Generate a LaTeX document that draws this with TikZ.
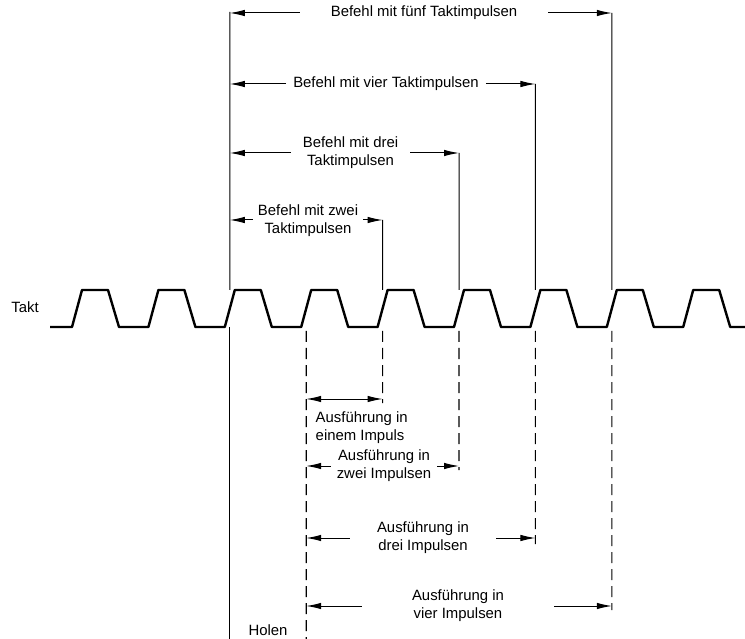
\documentclass[tikz,border=0pt]{standalone}
\usepackage{fontspec}
\setmainfont{Liberation Sans}
\usetikzlibrary{arrows.meta, positioning}

\begin{document}
\begin{tikzpicture}[x=1pt, y=-1pt,
    every node/.style={font=\fontsize{14.9}{18}\selectfont, align=center, inner ysep=0pt},
    clock/.style={line width=2.4pt, line join=round},
    dimline/.style={line width=1pt, -{Latex[length=15pt, width=6.5pt]}},
    bothline/.style={line width=1pt, {Latex[length=15pt, width=6.5pt]}-{Latex[length=15pt, width=6.5pt]}},
    guide/.style={line width=1pt},
    dashguide/.style={line width=1.1pt, dash pattern=on 11pt off 6pt}
  ]
    \useasboundingbox (0,0) rectangle (745,639);

    % Clock signal (nine pulses)
    \node (takt) at (25,307) {Takt};
    \draw[clock] (50,327)
      \foreach \c in {77,153.4,...,690} { -- (\c-5,327) -- (\c+5,290) -- (\c+31,290) -- (\c+42,327) }
      -- (745,327);

    % Points on the clock where the guide lines stop
    \foreach \k in {2,...,7} {
      \coordinate (up\k) at ({77+76.4*\k},290);
      \coordinate (dn\k) at ({77+76.4*\k},331);
    }

    % Top layer (Befehl)
    \coordinate (F0) at (229.8,13);
    \coordinate (F5) at (611.8,13);
    \node[inner xsep=31pt] (fuenf) at (424,13) {Befehl mit fünf Taktimpulsen};
    \draw[dimline] (fuenf) -- (F0);
    \draw[dimline] (fuenf) -- (F5);

    \coordinate (V0) at (229.8,84);
    \coordinate (V4) at (535.4,84);
    \node[inner xsep=7pt] (vier) at (386,84) {Befehl mit vier Taktimpulsen};
    \draw[dimline] (vier) -- (V0);
    \draw[dimline] (vier) -- (V4);

    \coordinate (D0) at (229.8,153);
    \coordinate (D3) at (459,153);
    \node[inner xsep=12pt] (drei) at (350.5,153) {Befehl mit drei\\Taktimpulsen};
    \draw[dimline] (drei) -- (D0);
    \draw[dimline] (drei) -- (D3);

    \coordinate (Z0) at (229.8,220);
    \coordinate (Z2) at (382.6,220);
    \node[inner xsep=5pt] (zwei) at (308,221) {Befehl mit zwei\\Taktimpulsen};
    \draw[dimline] (zwei.west |- Z0) -- (Z0);
    \draw[dimline] (zwei.east |- Z2) -- (Z2);

    % Guide lines above the clock
    \draw[guide] (229.8,12) -- (up2);
    \draw[guide] (Z2) -- (up4);
    \draw[guide] (D3) -- (up5);
    \draw[guide] (V4) -- (up6);
    \draw[guide] (F5) -- (up7);

    % Bottom layer (Ausfuehrung)
    \coordinate (E0) at (306.2,399);
    \coordinate (E1) at (382.6,399);
    \draw[bothline] (E0) -- (E1);
    \node[align=left, below right=13pt and 6pt of E0] (eins) {Ausführung in\\einem Impuls};

    \coordinate (G0) at (306.2,466);
    \coordinate (G2) at (459,466);
    \node[inner xsep=6pt] (azwei) at (384,466) {Ausführung in\\zwei Impulsen};
    \draw[dimline] (azwei) -- (G0);
    \draw[dimline] (azwei) -- (G2);

    \coordinate (R0) at (306.2,538);
    \coordinate (R3) at (535.4,538);
    \node[inner xsep=27pt] (adrei) at (423,538) {Ausführung in\\drei Impulsen};
    \draw[dimline] (adrei) -- (R0);
    \draw[dimline] (adrei) -- (R3);

    \coordinate (Q0) at (306.2,606);
    \coordinate (Q4) at (611.8,606);
    \node[inner xsep=50pt] (avier) at (458,606) {Ausführung in\\vier Impulsen};
    \draw[dimline] (avier) -- (Q0);
    \draw[dimline] (avier) -- (Q4);

    % Guide lines below the clock
    \coordinate (H0) at (229.8,639);
    \coordinate (H1) at (306.2,639);
    \draw[guide] (229.8,327) -- (H0);
    \draw[dashguide] (dn3) -- (H1);
    \draw[dashguide, shorten >=-4pt] (dn4) -- (E1);
    \draw[dashguide, shorten >=-4pt] (dn5) -- (G2);
    \draw[dashguide, shorten >=-6pt] (dn6) -- (R3);
    \draw[dashguide, shorten >=-4pt] (dn7) -- (Q4);

    \node (holen) at (268,630) {Holen};

\end{tikzpicture}
\end{document}
